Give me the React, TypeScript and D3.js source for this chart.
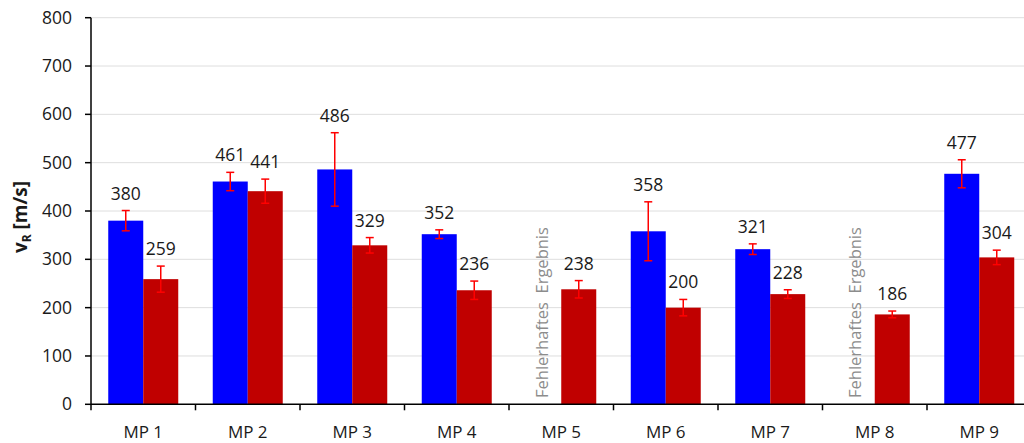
import React from "react";
import * as d3 from "d3";

const categories = ["MP 1", "MP 2", "MP 3", "MP 4", "MP 5", "MP 6", "MP 7", "MP 8", "MP 9"];
// null = fehlerhaftes Ergebnis (no valid measurement)
const blueValues: (number | null)[] = [380, 461, 486, 352, null, 358, 321, null, 477];
const blueErrors: (number | null)[] = [21, 19, 76, 9, null, 61, 11, null, 29];
const redValues: number[] = [259, 441, 329, 236, 238, 200, 228, 186, 304];
const redErrors: number[] = [27, 25, 16, 19, 18, 17, 9, 7, 15];
const yTicks = [0, 100, 200, 300, 400, 500, 600, 700, 800];
const invalidLabel = "Fehlerhaftes  Ergebnis";

const W = 1024;
const H = 443;
const FONT = "'Open Sans', sans-serif";

export default function App() {
  const left = 91;
  const top = 17.7;
  const bottom = 404.3;
  const x = d3.scaleBand<string>().domain(categories).range([left, left + 9 * 104.5]).paddingInner(0).paddingOuter(0);
  const y = d3.scaleLinear().domain([0, 800]).range([bottom, top]);
  const bw = 35;
  const gap = (x.bandwidth() - 2 * bw) / 2;
  const cap = 4;

  const series = [
    { values: blueValues, errors: blueErrors, color: "#0000FF", offset: 0 },
    { values: redValues as (number | null)[], errors: redErrors as (number | null)[], color: "#C00000", offset: 1 },
  ];

  return (
    <svg width={W} height={H} style={{ display: "block", position: "absolute", left: 0, top: 0, background: "#fff" }}>
      {/* gridlines */}
      {yTicks.filter((t) => t > 0).map((t) => (
        <line key={"g" + t} x1={left} x2={W} y1={y(t)} y2={y(t)} stroke="#dedede" strokeWidth={1} />
      ))}
      {/* bars */}
      {series.map((s, si) =>
        categories.map((c, i) => {
          const v = s.values[i];
          if (v == null) return null;
          const x0 = (x(c) as number) + gap + s.offset * bw;
          return <rect key={si + "-" + c} x={x0} y={y(v)} width={bw} height={y(0) - y(v)} fill={s.color} />;
        })
      )}
      {/* error bars and value labels */}
      {series.map((s, si) =>
        categories.map((c, i) => {
          const v = s.values[i];
          const e = s.errors[i];
          if (v == null || e == null) return null;
          const cx = (x(c) as number) + gap + s.offset * bw + bw / 2;
          const yt = y(v + e);
          const yb = y(v - e);
          return (
            <g key={"e" + si + c}>
              <line x1={cx} x2={cx} y1={yt} y2={yb} stroke="#FF0000" strokeWidth={1.5} />
              <line x1={cx - cap} x2={cx + cap} y1={yt} y2={yt} stroke="#FF0000" strokeWidth={1.5} />
              <line x1={cx - cap} x2={cx + cap} y1={yb} y2={yb} stroke="#FF0000" strokeWidth={1.5} />
              <text x={cx} y={yt - 11} textAnchor="middle" fontFamily={FONT} fontSize={17.5} fill="#1a1a1a">
                {v}
              </text>
            </g>
          );
        })
      )}
      {/* invalid-result notes */}
      {categories.map((c, i) => {
        if (blueValues[i] != null) return null;
        const cx = (x(c) as number) + gap + bw / 2;
        return (
          <text
            key={"n" + c}
            transform={`translate(${cx + 4},${398}) rotate(-90)`}
            fontFamily={FONT}
            fontSize={16.5}
            fill="#8c8c8c"
            style={{ whiteSpace: "pre" }}
          >
            {invalidLabel}
          </text>
        );
      })}
      {/* y axis */}
      <line x1={left} x2={left} y1={top} y2={bottom} stroke="#000" strokeWidth={1.5} />
      {yTicks.map((t) => (
        <g key={"t" + t}>
          <line x1={left - 6} x2={left} y1={y(t)} y2={y(t)} stroke="#000" strokeWidth={1.5} />
          <text x={left - 19} y={y(t) + 6} textAnchor="end" fontFamily={FONT} fontSize={17.5} fill="#1a1a1a">
            {t}
          </text>
        </g>
      ))}
      {/* x axis */}
      <line x1={left} x2={W} y1={bottom} y2={bottom} stroke="#000" strokeWidth={1.5} />
      {categories.map((c) => (
        <line key={"xt" + c} x1={x(c) as number} x2={x(c) as number} y1={bottom} y2={bottom + 6} stroke="#000" strokeWidth={1.5} />
      ))}
      {categories.map((c) => (
        <text
          key={"xl" + c}
          x={(x(c) as number) + x.bandwidth() / 2}
          y={437.5}
          textAnchor="middle"
          fontFamily={FONT}
          fontSize={17}
          fill="#1a1a1a"
        >
          {c}
        </text>
      ))}
      {/* y axis title */}
      <text transform={`translate(27,217) rotate(-90)`} textAnchor="middle" fontFamily={FONT} fontSize={19} fontWeight="bold" fill="#1a1a1a">
        v<tspan fontSize={12} dy={4}>R</tspan>
        <tspan dy={-4}> [m/s]</tspan>
      </text>
    </svg>
  );
}
